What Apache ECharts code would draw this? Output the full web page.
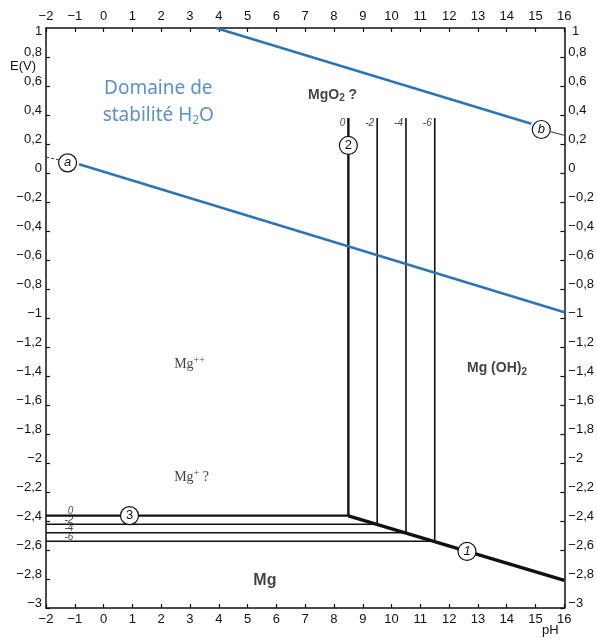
<!DOCTYPE html>
<html><head><meta charset="utf-8">
<script src="https://cdn.jsdelivr.net/npm/echarts@6/dist/echarts.min.js"></script>
<style>html,body{margin:0;padding:0;background:#fff}#c{width:597px;height:643px}</style>
</head><body><div id="c"></div>
<script>
// ---- data ----
const phMin = -2, phMax = 16;
const eMin = -3, eMax = 1;
const waterA = [[-0.85, 0.06], [16, -0.96]];          // line (a)
const waterB = [[3.9, 1.0], [14.85, 0.34]];           // line (b)
const leaderA = [[-1.55, 0.09], [-2, 0.11]];
const leaderB = [[15.52, 0.285], [16, 0.26]];
const concLabels = ['0', '-2', '-4', '-6'];           // log concentration
const line2PH = [8.5, 9.5, 10.5, 11.5];               // vertical lines (2)
const line3E = [-2.363, -2.422, -2.481, -2.54];       // horizontal lines (3)
const line2Top = 0.38;
const line1 = [[8.5, -2.364], [16, -2.81]];           // line (1)
const circleMarks = [
  { t: 'a', p: [-1.25, 0.07], it: true },
  { t: 'b', p: [15.2, 0.30], it: true },
  { t: '1', p: [12.62, -2.61], it: true },
  { t: '2', p: [8.5, 0.19], it: false },
  { t: '3', p: [0.9, -2.363], it: false }
];
const regionLabels = [
  { t: '{b|MgO}{bs|2}{b| ?}', p: [7.1, 0.54] },
  { t: '{s|Mg}{ssup|++}', p: [2.45, -1.32] },
  { t: '{b|Mg (OH)}{bs|2}', p: [12.62, -1.345] },
  { t: '{s|Mg}{ssup|+}{s| ?}', p: [2.45, -2.10] },
  { t: '{bl|Mg}', p: [5.2, -2.81] }
];
const blueText = [
  { t: '{n|Domaine de}', p: [1.9, 0.58] },
  { t: '{n|stabilité H}{sub|2}{n|O}', p: [1.9, 0.395] }
];

// ---- build ----
const fmt = v => { const r = Math.round(v * 10) / 10; return String(r).replace('.', ',').replace('-', '\u2212'); };
const axisFont = { fontFamily: 'Liberation Sans', fontSize: 13, color: '#111' };
const axisLine = { show: true, onZero: false, lineStyle: { color: '#111', width: 1.5 } };
const tick = { show: true, inside: true, length: 4, lineStyle: { color: '#111', width: 1.2 } };

function seg(data, width, color, extra) {
  return Object.assign({ type: 'line', data: data, symbol: 'none', silent: true,
    lineStyle: { color: color || '#111', width: width }, z: 3 }, extra || {});
}
const series = [];
series.push(seg(waterA, 2.6, '#2E75B6', { z: 4 }));
series.push(seg(waterB, 2.6, '#2E75B6', { z: 4 }));
series.push(seg(leaderA, 1, '#333', { lineStyle: { color: '#333', width: 1, type: [3, 2] } }));
series.push(seg(leaderB, 1, '#333'));
line3E.forEach((e, i) => {
  series.push(seg([[phMin, e], [line2PH[i], e]], i === 0 ? 2.4 : 1.5));
  series.push(seg([[line2PH[i], e], [line2PH[i], line2Top]], i === 0 ? 2.4 : 1.6));
});
series.push(seg(line1, 3.4));
const ink = '#111';
// concentration labels
series.push({ type: 'scatter', symbolSize: 0, silent: true, z: 6,
  data: concLabels.map((t, i) => ({ value: [line2PH[i], line2Top - 0.04], label: { formatter: t } })),
  label: { show: true, position: 'left', distance: 3, fontFamily: 'Liberation Sans', fontStyle: 'italic', fontSize: 10, color: ink } });
series.push({ type: 'scatter', symbolSize: 0, silent: true, z: 6,
  data: concLabels.map((t, i) => ({ value: [-1.05, line3E[i] + 0.03], label: { formatter: t } })),
  label: { show: true, position: 'left', distance: 0, fontFamily: 'Liberation Sans', fontStyle: 'italic', fontSize: 10, color: ink } });
// circles
series.push({ type: 'scatter', silent: true, z: 8, symbol: 'circle', symbolSize: 18,
  itemStyle: { color: '#fff', borderColor: ink, borderWidth: 1.2, opacity: 1 },
  data: circleMarks.map(c => ({ value: c.p, label: { formatter: c.t, fontStyle: c.it ? 'italic' : 'normal' } })),
  label: { show: true, position: 'inside', fontFamily: 'Liberation Sans', fontSize: 13, color: ink } });
// region labels
series.push({ type: 'scatter', symbolSize: 0, silent: true, z: 7,
  data: regionLabels.map(c => ({ value: c.p, label: { formatter: c.t } })),
  label: { show: true, position: 'right', distance: 0, color: ink,
    rich: {
      b: { fontFamily: 'Liberation Sans', fontWeight: 'bold', fontSize: 14, color: ink },
      bs: { fontFamily: 'Liberation Sans', fontWeight: 'bold', fontSize: 10, color: ink, padding: [8, 0, 0, 0] },
      bl: { fontFamily: 'Liberation Sans', fontWeight: 'bold', fontSize: 16, color: ink },
      s: { fontFamily: 'Liberation Serif', fontSize: 14, color: ink },
      ssup: { fontFamily: 'Liberation Serif', fontSize: 10, color: ink, padding: [0, 0, 8, 0] }
    } } });
series.push({ type: 'scatter', symbolSize: 0, silent: true, z: 7,
  data: blueText.map(c => ({ value: c.p, label: { formatter: c.t } })),
  label: { show: true, position: 'inside', color: '#2E75B6',
    rich: {
      n: { fontFamily: 'Noto Sans', fontSize: 19, color: '#2E75B6' },
      sub: { fontFamily: 'Noto Sans', fontSize: 12, color: '#2E75B6', padding: [10, 0, 0, 0] }
    } } });

const xBase = { type: 'value', min: phMin, max: phMax, interval: 1, splitLine: { show: false },
  axisLine: axisLine, axisTick: tick, axisLabel: Object.assign({ formatter: fmt, margin: 5 }, axisFont) };
const yBase = { type: 'value', min: eMin, max: eMax, interval: 0.2, splitLine: { show: false },
  axisLine: axisLine, axisTick: tick,
  axisLabel: Object.assign({ formatter: fmt, margin: 4, verticalAlign: 'bottom', lineHeight: 9, showMaxLabel: false }, axisFont) };

const chart = echarts.init(document.getElementById('c'), null, { renderer: 'canvas' });
chart.setOption({
  animation: false,
  backgroundColor: '#fff',
  grid: { left: 46, right: 29, top: 28, bottom: 35, containLabel: false },
  xAxis: [Object.assign({}, xBase, { position: 'bottom' }), Object.assign({}, xBase, { position: 'top' })],
  yAxis: [Object.assign({}, yBase, { position: 'left' }),
          Object.assign({}, yBase, { position: 'right' })],
  graphic: [
    { type: 'text', left: 10, top: 60, style: { text: 'E(V)', fontFamily: 'Liberation Sans', fontSize: 13, fill: ink } },
    { type: 'text', left: 542, top: 624, style: { text: 'pH', fontFamily: 'Liberation Sans', fontSize: 13, fill: ink } },
    { type: 'text', left: 35, top: 25, style: { text: '1', fontFamily: 'Liberation Sans', fontSize: 13, fill: ink } },
    { type: 'text', left: 572, top: 25, style: { text: '1', fontFamily: 'Liberation Sans', fontSize: 13, fill: ink } }
  ],
  series: series
});
</script></body></html>
